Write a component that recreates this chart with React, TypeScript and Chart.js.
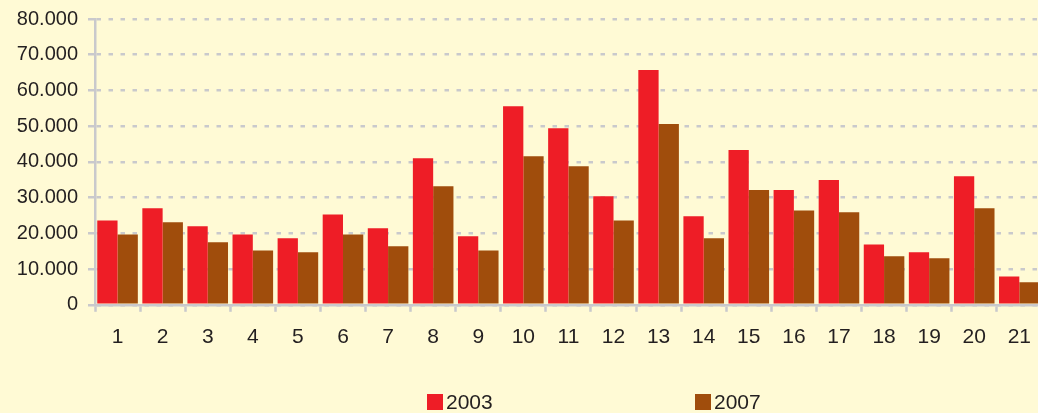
import React, { useEffect, useRef } from "react";
import { Chart, registerables } from "chart.js";

Chart.register(...registerables);

const categories = ["1","2","3","4","5","6","7","8","9","10","11","12","13","14","15","16","17","18","19","20","21"];
const series2003 = [23600,27000,22000,19700,18600,25300,21400,41000,19200,55600,49400,30400,65700,24800,43300,32100,34900,16900,14700,36000,7900];
const series2007 = [19700,23100,17500,15200,14700,19700,16400,33200,15200,41600,38800,23600,50600,18600,32100,26400,25900,13600,13000,27000,6300];
const seriesLabels = ["2003", "2007"];
const yTicks = [0,10000,20000,30000,40000,50000,60000,70000,80000];

const RED = "#EE1D26";
const BROWN = "#A04D0C";
const GRID = "#C9C9CC";
const TEXT = "#231F20";
const BG = "#FFFAD5";
const FONT = "'Liberation Sans', Arial, sans-serif";

const fmt = (v: number) => String(v).replace(/\B(?=(\d{3})+(?!\d))/g, ".");

const legendPlugin = {
  id: "customLegend",
  afterDraw(chart: any) {
    const ctx = chart.ctx;
    const xs = [427, 695];
    ctx.save();
    chart.data.datasets.forEach((ds: any, i: number) => {
      const x = xs[i];
      ctx.fillStyle = ds.backgroundColor;
      ctx.fillRect(x, 394, 16, 16);
      ctx.fillStyle = TEXT;
      ctx.font = `21px ${FONT}`;
      ctx.textBaseline = "alphabetic";
      ctx.textAlign = "left";
      ctx.fillText(ds.label, x + 19, 409);
    });
    ctx.restore();
  },
};

export default function App() {
  const ref = useRef<HTMLCanvasElement | null>(null);
  useEffect(() => {
    if (!ref.current) return;
    const chart = new Chart(ref.current, {
      type: "bar",
      data: {
        labels: categories,
        datasets: [
          { label: seriesLabels[0], data: series2003, backgroundColor: RED, borderWidth: 0 },
          { label: seriesLabels[1], data: series2007, backgroundColor: BROWN, borderWidth: 0 },
        ],
      },
      options: {
        responsive: false,
        animation: false,
        devicePixelRatio: 1,
        layout: { padding: { top: 19, left: 0, right: 0, bottom: 50 } },
        plugins: { legend: { display: false }, tooltip: { enabled: false } },
        datasets: { bar: { categoryPercentage: 0.9, barPercentage: 1.0 } },
        scales: {
          x: {
            offset: true,
            grid: {
              display: true,
              offset: true,
              drawOnChartArea: false,
              drawTicks: true,
              tickLength: 7,
              tickColor: GRID,
              tickWidth: 2.5,
            },
            border: { display: true, color: GRID, width: 2.5, z: 1 },
            ticks: { color: TEXT, font: { family: FONT, size: 21 }, padding: 13, maxRotation: 0, autoSkip: false },
          },
          y: {
            min: 0,
            max: 80000,
            afterFit: (scale: any) => {
              scale.width = 95;
              scale.paddingTop = 0;
              scale.paddingBottom = 0;
            },
            afterBuildTicks: (scale: any) => { scale.ticks = yTicks.map((v) => ({ value: v })); },
            grid: {
              color: GRID,
              lineWidth: 2.5,
              tickLength: 7,
              tickColor: GRID,
              tickWidth: 2.5,
            },
            border: { display: true, color: GRID, width: 2.5, dash: [4.5, 7.5] },
            ticks: {
              color: TEXT,
              font: { family: FONT, size: 20 },
              padding: 10,
              callback: (v: any) => fmt(Number(v)),
            },
          },
        },
      },
      plugins: [legendPlugin],
    });
    return () => chart.destroy();
  }, []);
  return (
    <div style={{ position: "fixed", left: 0, top: 0, width: 1038, height: 413, overflow: "hidden", background: BG }}>
      <canvas ref={ref} width={1044} height={413} style={{ display: "block" }} />
    </div>
  );
}
